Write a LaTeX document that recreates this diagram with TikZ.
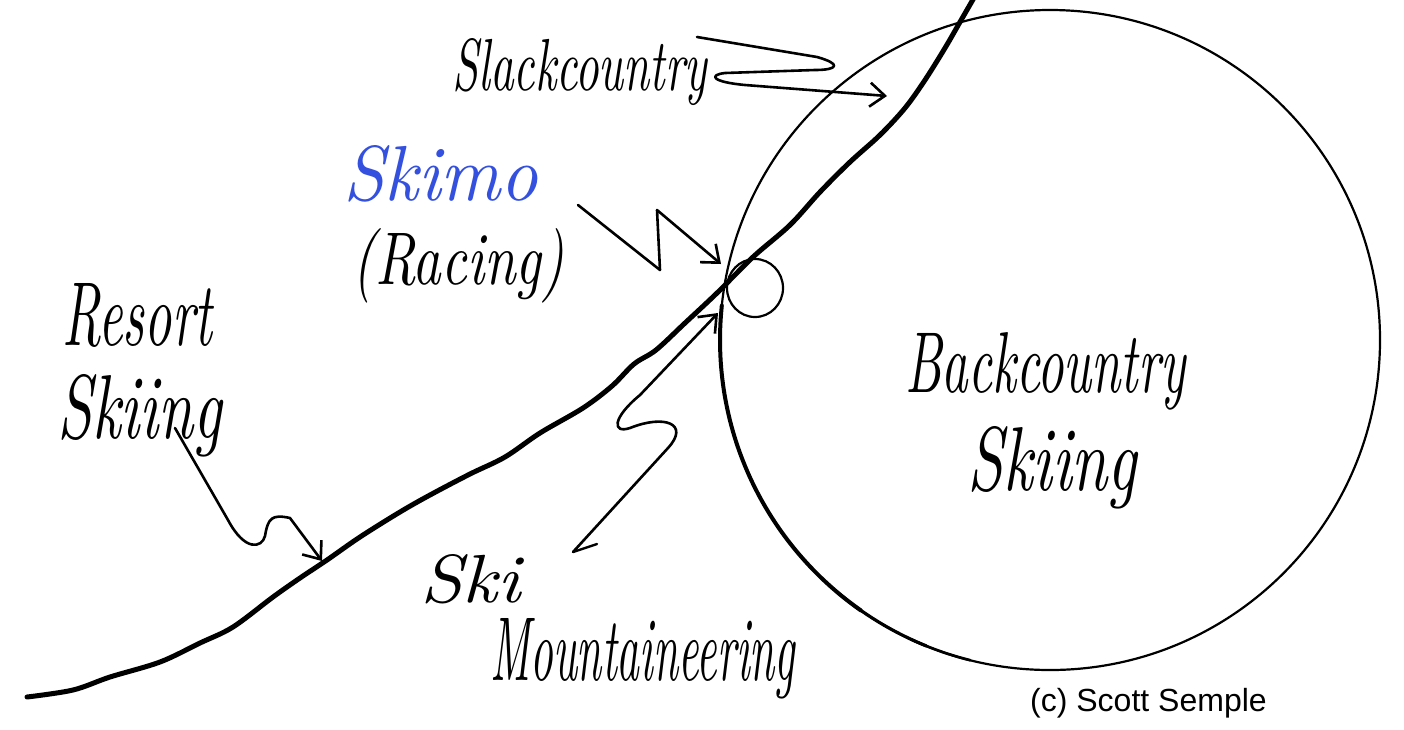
\documentclass[tikz,border=0pt]{standalone}
\usepackage{fontspec}
\usepackage{graphicx}
\newfontfamily\credit{Liberation Sans}
\usetikzlibrary{arrows.meta}
\definecolor{skimoblue}{RGB}{52,80,222}
\newcommand{\hwlabel}[3]{\resizebox{#1pt}{#2pt}{\itshape #3}}
\begin{document}
\begin{tikzpicture}[x=1pt,y=-1pt,
  slope/.style={line width=5pt, line cap=round, line join=round},
  ring/.style={line width=2.2pt},
  heavyarc/.style={line cap=round},
  pointer/.style={line width=2.6pt, line cap=round, line join=round,
    -{Straight Barb[length=15pt,width=24pt]}},
  label/.style={anchor=base west, inner sep=0pt, text=black},
  skimolabel/.style={label, text=skimoblue}
]
\useasboundingbox (0,0) rectangle (1404,729);
\fill[white] (0,0) rectangle (1404,729);

% big and small circles
\draw[ring] (1050,340) circle[radius=330];
\draw[heavyarc, line width=4pt] plot[domain=125:186, samples=50, smooth] ({1050+330*cos(\x)},{340+330*sin(\x)});
\draw[heavyarc, line width=3.2pt] plot[domain=112:130, samples=20, smooth] ({1050+330*cos(\x)},{340+330*sin(\x)});
\draw[heavyarc, line width=2.7pt] plot[domain=104:115, samples=12, smooth] ({1050+330*cos(\x)},{340+330*sin(\x)});
\draw[ring] (755,288) ellipse[x radius=28, y radius=29];

% slope line
\draw[slope] plot[smooth, tension=0.55] coordinates {
 (27,697) (73,690) (110,677) (160,662) (200,643) (233,627) (273,597) (300,578)
 (327,560) (360,537) (400,512) (430,495) (470,474) (505,457) (540,433) (583,408)
 (612,386) (634,364) (656,350) (685,323) (717,293) (753,257) (790,225) (820,192)
 (850,162) (880,135) (905,108) (925,80) (945,48) (960,22) (975,-4)};

% labels
\node[label] (slack) at (452,90) {\hwlabel{255}{52}{Slackcountry}};
\node[skimolabel] (skimo) at (343,200) {\hwlabel{195}{55}{Skimo}};
\node[label] (racing) at (352,284) {\hwlabel{212}{56}{(Racing)}};
\node[label] (resort) at (62,345) {\hwlabel{150}{62}{Resort}};
\node[label] (skiingA) at (57,438) {\hwlabel{165}{64}{Skiing}};
\node[label] (back) at (905,392) {\hwlabel{280}{60}{Backcountry}};
\node[label] (skiingB) at (967,490) {\hwlabel{170}{64}{Skiing}};
\node[label] (ski) at (420,602) {\hwlabel{100}{48}{Ski}};
\node[label] (mount) at (490,680) {\hwlabel{305}{62}{Mountaineering}};
\node[anchor=base west, inner sep=0pt] (credit) at (1030,711) {\credit\fontsize{32}{36}\selectfont (c) Scott Semple};

% arrow anchor points
\coordinate (slackStart) at (697,37);
\coordinate (slackTip) at (887,96);
\coordinate (skimoStart) at (578,205);
\coordinate (skimoTip) at (721,264);
\coordinate (mountStart) at (573,552);
\coordinate (mountTip) at (718,313);
\coordinate (resortStart) at (175,428);
\coordinate (resortTip) at (322,561);

% arrows
\draw[pointer] (slackStart) -- (817,57) .. controls (842,64) and (838,70) .. (815,70)
  -- (725,73) .. controls (708,75) and (712,82) .. (745,85) -- (slackTip);
\draw[pointer] (skimoStart) -- (660,270) -- (657,210) -- (skimoTip);
\draw[line width=2.4pt, line cap=round] (mountStart) -- (597,544);
\draw[pointer] (mountStart) -- (668,448) .. controls (690,424) and (665,414) .. (630,428)
  .. controls (612,434) and (612,418) .. (640,395) -- (mountTip);
\draw[pointer] (resortStart) -- (228,520) .. controls (245,552) and (262,548) .. (265,536)
  .. controls (268,518) and (272,514) .. (290,518) -- (resortTip);
\end{tikzpicture}
\end{document}
